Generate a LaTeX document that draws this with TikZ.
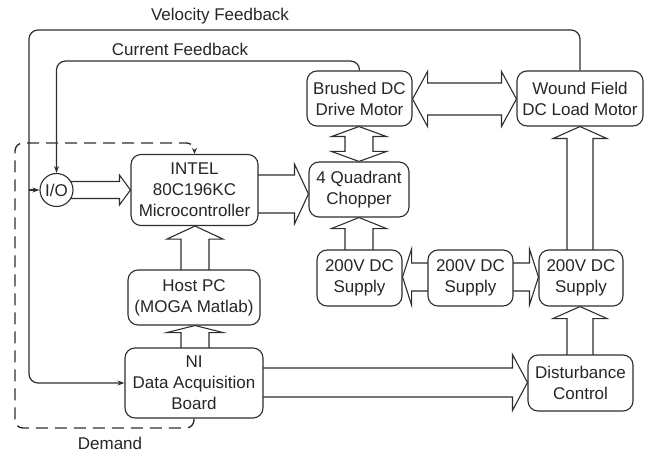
\documentclass[tikz,border=0pt]{standalone}
\usepackage{fontspec}
\setmainfont{Liberation Sans}
\usetikzlibrary{arrows.meta,calc,backgrounds}
\definecolor{ln}{HTML}{2E2E2E}
\newcommand\RArr[6]{%
 \draw[blk] let \p1=(#1.east), \p2=(#2.west) in
 ({\x1-3pt},{-#3+#4}) -- ({\x2-#6pt},{-#3+#4}) -- ({\x2-#6pt},{-#3+#5}) -- (\x2,{-#3})
 -- ({\x2-#6pt},{-#3-#5}) -- ({\x2-#6pt},{-#3-#4}) -- ({\x1-3pt},{-#3-#4});}
\newcommand\HDArr[6]{%
 \draw[blk] let \p1=(#1.east), \p2=(#2.west) in
 (\x1,{-#3}) -- ({\x1+#6pt},{-#3+#5}) -- ({\x1+#6pt},{-#3+#4}) -- ({\x2-#6pt},{-#3+#4})
 -- ({\x2-#6pt},{-#3+#5}) -- (\x2,{-#3}) -- ({\x2-#6pt},{-#3-#5}) -- ({\x2-#6pt},{-#3-#4})
 -- ({\x1+#6pt},{-#3-#4}) -- ({\x1+#6pt},{-#3-#5}) -- cycle;}
\newcommand\UArr[6]{%
 \draw[blk] let \p1=(#1.north), \p2=(#2.south) in
 ({#3-#4},{\y1-3pt}) -- ({#3-#4},{\y2-#6pt}) -- ({#3-#5},{\y2-#6pt}) -- (#3,\y2)
 -- ({#3+#5},{\y2-#6pt}) -- ({#3+#4},{\y2-#6pt}) -- ({#3+#4},{\y1-3pt});}
\newcommand\VDArr[6]{%
 \draw[blk] let \p1=(#1.south), \p2=(#2.north) in
 (#3,\y1) -- ({#3+#5},{\y1-#6pt}) -- ({#3+#4},{\y1-#6pt}) -- ({#3+#4},{\y2+#6pt})
 -- ({#3+#5},{\y2+#6pt}) -- (#3,\y2) -- ({#3-#5},{\y2+#6pt}) -- ({#3-#4},{\y2+#6pt})
 -- ({#3-#4},{\y1-#6pt}) -- ({#3-#5},{\y1-#6pt}) -- cycle;}
\begin{document}
\begin{tikzpicture}[x=1pt,y=1pt,
 box/.style={draw=ln, line width=1.1pt, rounded corners=10pt, fill=white, align=center,
   inner sep=0pt, text=black!85, font=\fontsize{17}{21}\selectfont},
 blk/.style={draw=ln, line width=1.1pt, fill=white, line join=miter},
 fb/.style={draw=ln, line width=1.2pt, rounded corners=9pt, -{Stealth[length=7pt,width=5pt]}},
 dmd/.style={draw=ln, line width=1.4pt, dash pattern=on 12pt off 7pt, rounded corners=8pt,
   -{Stealth[length=6pt,width=5pt]}},
 lbl/.style={font=\fontsize{17}{21}\selectfont, inner sep=0pt, text=black!85}]
\useasboundingbox (0,0) rectangle (649,-452);

\node[draw=ln, line width=1.1pt, circle, fill=white, inner sep=0pt, minimum size=33pt,
  text=black!85, font=\fontsize{17}{21}\selectfont] (io) at (56.5,-190) {I/O};
\node[box, minimum width=127pt, minimum height=71pt] (intel) at (194.5,-190) {INTEL\\80C196KC\\Microcontroller};
\node[box, minimum width=105pt, minimum height=55pt] (brushed) at (359.5,-98.5) {Brushed DC\\Drive Motor};
\node[box, minimum width=126pt, minimum height=55pt] (wound) at (580,-98.5) {Wound Field\\DC Load Motor};
\node[box, minimum width=100pt, minimum height=55pt] (chopper) at (359,-189.5) {4 Quadrant\\Chopper};
\node[box, minimum width=85pt, minimum height=56pt] (supA) at (359.5,-278) {200V DC\\Supply};
\node[box, minimum width=85pt, minimum height=56pt] (supB) at (470.5,-278) {200V DC\\Supply};
\node[box, minimum width=84pt, minimum height=56pt] (supC) at (581,-278) {200V DC\\Supply};
\node[box, minimum width=105pt, minimum height=56pt] (dist) at (580.5,-383) {Disturbance\\Control};
\node[box, minimum width=132pt, minimum height=55pt] (host) at (194,-297.5) {Host PC\\(MOGA Matlab)};
\node[box, minimum width=138pt, minimum height=70pt] (ni) at (194,-383) {NI\\Data Acquisition\\Board};

\begin{scope}[on background layer]
\RArr{io}{intel}{190}{8.5}{15}{11}
\RArr{intel}{chopper}{194}{19}{30}{14}
\HDArr{brushed}{wound}{99}{16}{27.5}{15}
\VDArr{brushed}{chopper}{359}{14}{27.5}{10}
\UArr{supA}{chopper}{359}{14}{27.5}{11}
\HDArr{supA}{supC}{277}{14}{28}{9}
\UArr{supC}{wound}{580}{13}{27}{12}
\UArr{dist}{supC}{580}{13}{27}{12}
\UArr{host}{intel}{195}{14}{28}{13}
\UArr{ni}{host}{195}{14}{28}{7}
\RArr{ni}{dist}{382.5}{14.5}{28}{15}
\end{scope}

\coordinate (vfc) at (29,-30);
\coordinate (cfc) at (56.5,-61);
\draw[fb] (wound.north) |- (vfc) |- (ni.west);
\draw[fb] (vfc |- io.west) -- (io.west);
\draw[fb] (brushed.north) |- (cfc) -- (io.north);

\coordinate (d1) at (15,-428);
\coordinate (d2) at (15,-143);
\draw[dmd] (ni.south) |- (d1) -- (d2) -| (intel.north);

\node[lbl] (lv) at (220,-16) {Velocity Feedback};
\node[lbl] (lc) at (180,-49) {Current Feedback};
\node[lbl] (ld) at (110,-443) {Demand};
\end{tikzpicture}
\end{document}
